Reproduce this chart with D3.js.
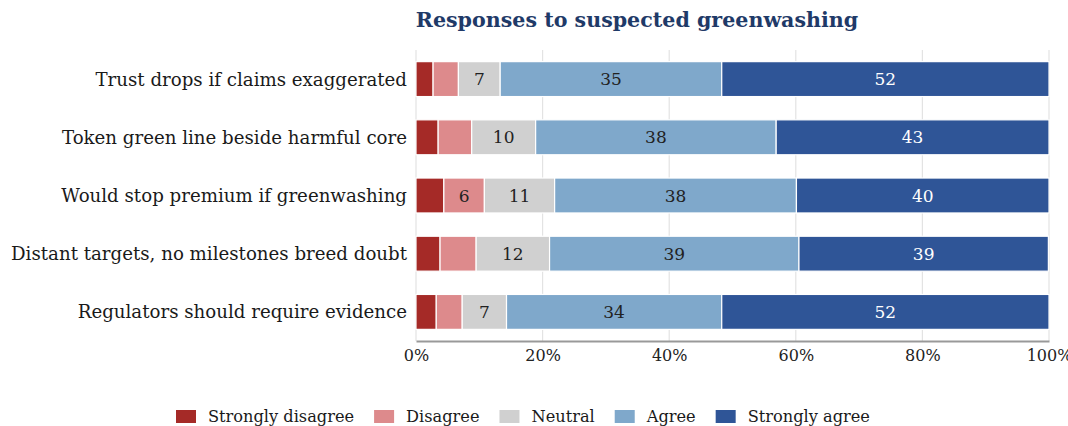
<!DOCTYPE html>
<html>
<head>
<meta charset="utf-8">
<script src="https://cdn.jsdelivr.net/npm/d3@7"></script>
<style>
  html, body { margin: 0; padding: 0; background: #fff; }
  svg { display: block; font-family: "DejaVu Serif", serif; }
</style>
</head>
<body>
<svg id="chart" width="1068" height="426"></svg>
<script>
const categories = [
  "Trust drops if claims exaggerated",
  "Token green line beside harmful core",
  "Would stop premium if greenwashing",
  "Distant targets, no milestones breed doubt",
  "Regulators should require evidence"
];
const seriesNames = ["Strongly disagree", "Disagree", "Neutral", "Agree", "Strongly agree"];
const stronglyDisagree = [2.7, 3.5, 4.4, 3.8, 3.2];
const disagree         = [4.0, 5.3, 6.4, 5.7, 4.1];
const neutral          = [6.6, 10.1, 11.1, 11.6, 7.0];
const agree            = [35.0, 38.0, 38.2, 39.4, 34.0];
const stronglyAgree    = [51.7, 43.1, 39.9, 39.4, 51.7];
const xTicks = [0, 20, 40, 60, 80, 100];
const title = "Responses to suspected greenwashing";

const colors = ["#a52a27", "#dd8a8c", "#d0d0d0", "#7fa8cb", "#2f5597"];
const labelColors = ["#fff", "#222", "#222", "#222", "#fff"];

const rows = categories.map((c, i) => ({
  cat: c,
  vals: [stronglyDisagree[i], disagree[i], neutral[i], agree[i], stronglyAgree[i]]
}));

const svg = d3.select("#chart");
const m = { left: 416, right: 19, top: 50, bottom: 85 };
const W = 1068, H = 426;

const x = d3.scaleLinear().domain([0, 100]).range([m.left, W - m.right]);
const y = d3.scaleBand().domain(categories).range([m.top, H - m.bottom]).paddingInner(0.4).paddingOuter(0.2);

// gridlines
svg.append("g").selectAll("line").data(xTicks).join("line")
  .attr("x1", d => x(d)).attr("x2", d => x(d))
  .attr("y1", m.top).attr("y2", H - m.bottom)
  .attr("stroke", "#e3e3e3").attr("stroke-width", 1.2);

// bars
const stackData = rows.map(r => {
  let acc = 0;
  return r.vals.map((v, k) => { const s = acc; acc += v; return { cat: r.cat, k, v, x0: s, x1: acc }; });
}).flat();

const g = svg.append("g");
g.selectAll("rect").data(stackData).join("rect")
  .attr("x", d => x(d.x0)).attr("width", d => x(d.x1) - x(d.x0))
  .attr("y", d => y(d.cat)).attr("height", y.bandwidth())
  .attr("fill", d => colors[d.k])
  .attr("stroke", "#fff").attr("stroke-width", 1.2);

g.selectAll("text").data(stackData.filter(d => d.v >= 6)).join("text")
  .attr("x", d => (x(d.x0) + x(d.x1)) / 2)
  .attr("y", d => y(d.cat) + y.bandwidth() / 2)
  .attr("text-anchor", "middle").attr("dominant-baseline", "central")
  .attr("font-size", 17).attr("fill", d => labelColors[d.k])
  .text(d => Math.round(d.v));

// category labels
svg.append("g").selectAll("text").data(categories).join("text")
  .attr("x", m.left - 9).attr("y", d => y(d) + y.bandwidth() / 2)
  .attr("text-anchor", "end").attr("dominant-baseline", "central")
  .attr("font-size", 18.2).attr("fill", "#1a1a1a")
  .text(d => d);

// x axis
const ax = svg.append("g").attr("transform", `translate(0,${H - m.bottom})`)
  .call(d3.axisBottom(x).tickValues(xTicks).tickFormat(d => d + "%").tickSize(0).tickPadding(9));
ax.select(".domain").attr("stroke", "#999").attr("stroke-width", 1.8);
ax.selectAll("text").attr("font-size", 16).attr("font-family", "DejaVu Serif").attr("fill", "#222");

// title
svg.append("text").attr("x", 637).attr("y", 27)
  .attr("text-anchor", "middle").attr("font-size", 20.6).attr("font-weight", "bold")
  .attr("fill", "#1f3a68").text(title);

// legend
const lg = svg.append("g");
let lx = 176;
const ly = 416.5;
seriesNames.forEach((name, k) => {
  lg.append("rect").attr("x", lx).attr("y", ly - 6.5).attr("width", 20).attr("height", 13).attr("fill", colors[k]);
  const t = lg.append("text").attr("x", lx + 32).attr("y", ly).attr("dominant-baseline", "central")
    .attr("font-size", 16.2).attr("fill", "#1a1a1a").text(name);
  lx += 32 + t.node().getComputedTextLength() + 20;
});
</script>
</body>
</html>
